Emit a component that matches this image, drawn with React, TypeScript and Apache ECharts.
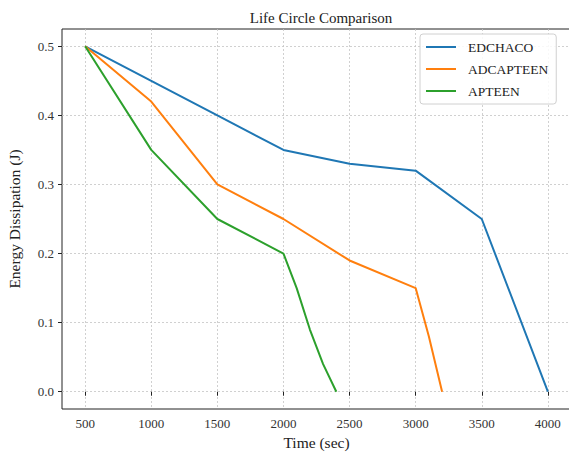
import React, { useEffect, useRef } from "react";
import * as echarts from "echarts";

const xTicks = [500, 1000, 1500, 2000, 2500, 3000, 3500, 4000];
const yTicks = [0, 0.1, 0.2, 0.3, 0.4, 0.5];

const edchacoX = [500, 1000, 1500, 2000, 2500, 3000, 3500, 4000];
const edchacoY = [0.5, 0.45, 0.4, 0.35, 0.33, 0.32, 0.25, 0.0];

const adcapteenX = [500, 1000, 1500, 2000, 2500, 3000, 3100, 3200];
const adcapteenY = [0.5, 0.42, 0.3, 0.25, 0.19, 0.15, 0.08, 0.0];

const apteenX = [500, 1000, 1500, 2000, 2100, 2200, 2300, 2400];
const apteenY = [0.5, 0.35, 0.25, 0.2, 0.15, 0.09, 0.04, 0.0];

const FONT = "Liberation Serif";

function pairs(xs: number[], ys: number[]) {
  return xs.map((x, i) => [x, ys[i]]);
}

export default function App() {
  const ref = useRef<HTMLDivElement>(null);
  useEffect(() => {
    document.body.style.margin = "0";
    if (!ref.current) return;
    const chart = echarts.init(ref.current, undefined, { renderer: "svg" });
    const gridLine = { show: true, lineStyle: { color: "#c4c4c4", width: 0.8, type: [2, 2] as any } };
    chart.setOption({
      animation: false,
      backgroundColor: "#fff",
      title: {
        text: "Life Circle Comparison",
        left: 316,
        textAlign: "center",
        top: 5,
        textStyle: { fontFamily: FONT, fontSize: 15, fontWeight: "normal", color: "#222" },
      },
      grid: {
        left: 62,
        top: 29,
        width: 509,
        height: 380,
        outerBoundsMode: "none",
        containLabel: false,
        show: true,
        borderColor: "#222",
        borderWidth: 1,
        backgroundColor: "transparent",
      },
      legend: {
        left: 420,
        top: 34,
        orient: "vertical",
        itemWidth: 30,
        itemHeight: 14,
        itemGap: 8,
        padding: [6, 8, 6, 5],
        backgroundColor: "rgba(255,255,255,0.85)",
        borderColor: "#d0d0d0",
        borderWidth: 1,
        borderRadius: 3,
        itemStyle: { opacity: 0 },
        textStyle: { fontFamily: FONT, fontSize: 13.5, color: "#222", padding: [0, 0, 0, 7] },
        data: ["EDCHACO", "ADCAPTEEN", "APTEEN"],
      },
      xAxis: {
        type: "value",
        min: 325,
        max: 4175,
        name: "Time (sec)",
        nameLocation: "middle",
        nameGap: 23,
        nameTextStyle: { fontFamily: FONT, fontSize: 15.5, color: "#222" },
        axisLine: { show: false },
        axisTick: { show: true, length: 4, customValues: xTicks, lineStyle: { color: "#222" } },
        axisLabel: {
          customValues: xTicks,
          fontFamily: FONT,
          fontSize: 13,
          color: "#333",
          margin: 8,
          formatter: (v: number) => String(v),
        },
        splitLine: gridLine,
      },
      yAxis: {
        type: "value",
        min: -0.025,
        max: 0.525,
        name: "Energy Dissipation (J)",
        nameLocation: "middle",
        nameGap: 40,
        nameTextStyle: { fontFamily: FONT, fontSize: 15.5, color: "#222" },
        axisLine: { show: false },
        axisTick: { show: true, length: 4, customValues: yTicks, lineStyle: { color: "#222" } },
        axisLabel: {
          customValues: yTicks,
          fontFamily: FONT,
          fontSize: 13,
          color: "#333",
          margin: 8,
          formatter: (v: number) => v.toFixed(1),
        },
        splitLine: gridLine,
      },
      series: [
        {
          name: "EDCHACO",
          type: "line",
          data: pairs(edchacoX, edchacoY),
          symbol: "none",
          lineStyle: { color: "#1f77b4", width: 2 },
          itemStyle: { color: "#1f77b4" },
        },
        {
          name: "ADCAPTEEN",
          type: "line",
          data: pairs(adcapteenX, adcapteenY),
          symbol: "none",
          lineStyle: { color: "#ff7f0e", width: 2 },
          itemStyle: { color: "#ff7f0e" },
        },
        {
          name: "APTEEN",
          type: "line",
          data: pairs(apteenX, apteenY),
          symbol: "none",
          lineStyle: { color: "#2ca02c", width: 2 },
          itemStyle: { color: "#2ca02c" },
        },
      ],
    });
    return () => chart.dispose();
  }, []);
  return <div ref={ref} style={{ width: 569, height: 456 }} />;
}
